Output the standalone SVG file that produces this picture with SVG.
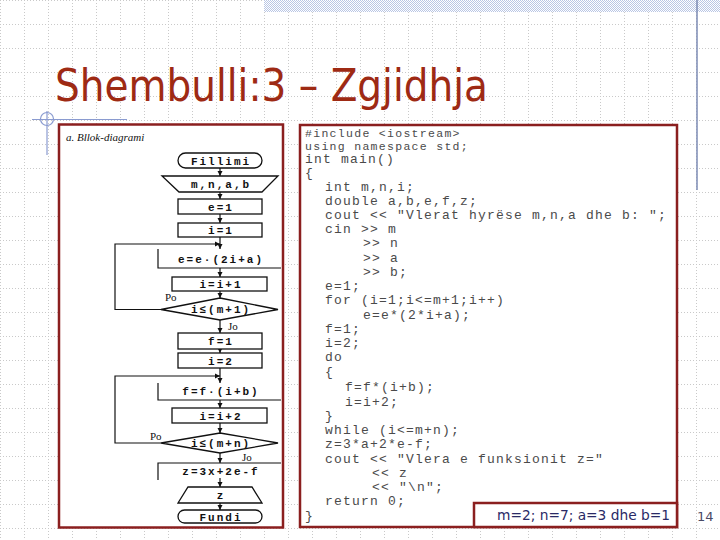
<svg xmlns="http://www.w3.org/2000/svg" width="720" height="540" viewBox="0 0 720 540">
<defs>
<pattern id="grid" width="24" height="24" patternUnits="userSpaceOnUse">
<path d="M0,0.5 H24 M0.5,0 V24" fill="none" stroke="#c9c9c9" stroke-width="1" stroke-dasharray="1,2"/>
</pattern>
<pattern id="check" width="2" height="2" patternUnits="userSpaceOnUse">
<rect width="2" height="2" fill="#ffffff"/>
<rect width="1" height="1" fill="#b9c6e4"/>
<rect x="1" y="1" width="1" height="1" fill="#b9c6e4"/>
</pattern>
<marker id="arr" markerWidth="6" markerHeight="6" refX="5" refY="3" orient="auto" markerUnits="userSpaceOnUse">
<path d="M0,0.5 L5,3 L0,5.5 Z" fill="#111"/>
</marker>
</defs>
<style>
.fl{fill:#fff;stroke:#111;stroke-width:1.3}
.ln{fill:none;stroke:#111;stroke-width:1.2}
.ft{font-family:"Liberation Mono",monospace;font-weight:bold;font-size:11px;letter-spacing:2px;fill:#111;text-anchor:middle}
.lb{font-family:"Liberation Serif",serif;font-size:11px;fill:#111}
.cd{font-family:"Liberation Mono",monospace;font-size:13px;letter-spacing:1.2px;fill:#4a4a4a}
.cs{font-family:"Liberation Mono",monospace;font-size:11.5px;letter-spacing:1.3px;fill:#4a4a4a}
.frame{fill:#fff;stroke:#8b1f1f;stroke-width:2.5}
</style>
<rect width="720" height="540" fill="#fff"/>
<rect width="720" height="540" fill="url(#grid)"/>
<rect x="264" y="0" width="456" height="12" fill="url(#check)"/>
<line x1="697" y1="0" x2="697" y2="190" stroke="#7d8bb5" stroke-width="1.5"/>
<g id="decor" stroke="#8a9bd0" stroke-width="1.2" fill="none">
<line x1="32" y1="119.5" x2="127" y2="119.5"/>
<line x1="47" y1="111" x2="47" y2="155"/>
<circle cx="47" cy="119" r="6.5"/>
</g>
<text id="title" x="55" y="101" font-family="Tahoma,'DejaVu Sans',sans-serif" font-size="44" fill="#9e2a14" textLength="433" lengthAdjust="spacingAndGlyphs">Shembulli:3 – Zgjidhja</text>

<g id="flow-frame"><rect class="frame" x="59" y="124.5" width="224" height="403"/></g>
<text class="lb" x="66" y="141" font-style="italic">a.  Bllok-diagrami</text>

<g id="connectors">
<line class="ln" x1="220" y1="168" x2="220" y2="176" marker-end="url(#arr)"/>
<line class="ln" x1="220" y1="192" x2="220" y2="199" marker-end="url(#arr)"/>
<line class="ln" x1="220" y1="214" x2="220" y2="223" marker-end="url(#arr)"/>
<line class="ln" x1="220" y1="237" x2="220" y2="249" marker-end="url(#arr)"/>
<path class="ln" d="M161,309.5 H115 V244 H220" marker-end="url(#arr)"/>
<line class="ln" x1="220" y1="268" x2="220" y2="277" marker-end="url(#arr)"/>
<line class="ln" x1="220" y1="291" x2="220" y2="298" marker-end="url(#arr)"/>
<line class="ln" x1="220" y1="320" x2="220" y2="333" marker-end="url(#arr)"/>
<line class="ln" x1="220" y1="349" x2="220" y2="353" marker-end="url(#arr)"/>
<line class="ln" x1="220" y1="368" x2="220" y2="383" marker-end="url(#arr)"/>
<path class="ln" d="M161,443 H115 V376 H220" marker-end="url(#arr)"/>
<line class="ln" x1="220" y1="400" x2="220" y2="408" marker-end="url(#arr)"/>
<line class="ln" x1="220" y1="423" x2="220" y2="433" marker-end="url(#arr)"/>
<line class="ln" x1="220" y1="453" x2="220" y2="463" marker-end="url(#arr)"/>
<line class="ln" x1="220" y1="478" x2="220" y2="487" marker-end="url(#arr)"/>
<line class="ln" x1="220" y1="503" x2="220" y2="510" marker-end="url(#arr)"/>
</g>

<g id="n-start"><rect class="fl" x="178" y="153" width="84" height="15" rx="7.5"/><text class="ft" x="221" y="164.5">Fillimi</text></g>
<g id="n-input"><polygon class="fl" points="162,176 278,176 262,192 179,192"/><text class="ft" x="221" y="188">m,n,a,b</text></g>
<g id="n-e1"><rect class="fl" x="178" y="199" width="84" height="15"/><text class="ft" x="221" y="210.5">e=1</text></g>
<g id="n-i1"><rect class="fl" x="178" y="223" width="84" height="14"/><text class="ft" x="221" y="234">i=1</text></g>
<g id="n-ee"><path class="ln" d="M158,249 V268 H281"/><text class="ft" x="221" y="263">e=e·(2i+a)</text></g>
<g id="n-ii1"><rect class="fl" x="172" y="277" width="95" height="14"/><text class="ft" x="221" y="288">i=i+1</text></g>
<g id="n-d1"><polygon class="fl" points="220,298 278,309.5 220,320 161,309.5"/><text class="ft" x="221" y="313">i≤(m+1)</text></g>
<text class="lb" x="165" y="301">Po</text>
<text class="lb" x="228" y="330">Jo</text>
<g id="n-f1"><rect class="fl" x="178" y="333" width="84" height="16"/><text class="ft" x="221" y="345">f=1</text></g>
<g id="n-i2"><rect class="fl" x="178" y="353" width="84" height="15"/><text class="ft" x="221" y="364.5">i=2</text></g>
<g id="n-ff"><path class="ln" d="M158,383 V400 H281"/><text class="ft" x="221" y="395">f=f·(i+b)</text></g>
<g id="n-ii2"><rect class="fl" x="172" y="408" width="95" height="15"/><text class="ft" x="221" y="419.5">i=i+2</text></g>
<g id="n-d2"><polygon class="fl" points="220,433 278,443 220,453 161,443"/><text class="ft" x="221" y="447">i≤(m+n)</text></g>
<text class="lb" x="150" y="440">Po</text>
<text class="lb" x="242" y="461">Jo</text>
<g id="n-z"><path class="ln" d="M158,480 V463 H281"/><text class="ft" x="221" y="475">z=3x+2e-f</text></g>
<g id="n-out"><polygon class="fl" points="188,487 252,487 262,503 178,503"/><text class="ft" x="221" y="499">z</text></g>
<g id="n-end"><rect class="fl" x="178" y="510" width="84" height="13" rx="6.5"/><text class="ft" x="221" y="520.5">Fundi</text></g>

<g id="code-frame"><rect class="frame" x="300" y="125" width="377" height="402"/></g>
<g id="code">
<text class="cs" x="305" y="136.5">#include &lt;iostream&gt;</text>
<text class="cs" x="305" y="149.5">using namespace std;</text>
<text class="cd" x="305" y="163" font-size="14" letter-spacing="0.3">int main()</text>
<text class="cd" x="305" y="177">{</text>
<text class="cd" x="325" y="191">int m,n,i;</text>
<text class="cd" x="325" y="205">double a,b,e,f,z;</text>
<text class="cd" x="325" y="219">cout &lt;&lt; "Vlerat hyrëse m,n,a dhe b: ";</text>
<text class="cd" x="325" y="233">cin &gt;&gt; m</text>
<text class="cd" x="363" y="247">&gt;&gt; n</text>
<text class="cd" x="363" y="262">&gt;&gt; a</text>
<text class="cd" x="363" y="276">&gt;&gt; b;</text>
<text class="cd" x="325" y="290">e=1;</text>
<text class="cd" x="325" y="304">for (i=1;i&lt;=m+1;i++)</text>
<text class="cd" x="363" y="319">e=e*(2*i+a);</text>
<text class="cd" x="325" y="333">f=1;</text>
<text class="cd" x="325" y="347">i=2;</text>
<text class="cd" x="325" y="361">do</text>
<text class="cd" x="325" y="376">{</text>
<text class="cd" x="345" y="391">f=f*(i+b);</text>
<text class="cd" x="345" y="406">i=i+2;</text>
<text class="cd" x="325" y="420">}</text>
<text class="cd" x="325" y="434">while (i&lt;=m+n);</text>
<text class="cd" x="325" y="448">z=3*a+2*e-f;</text>
<text class="cd" x="325" y="463">cout &lt;&lt; "Vlera e funksionit z="</text>
<text class="cd" x="372" y="477">&lt;&lt; z</text>
<text class="cd" x="372" y="491">&lt;&lt; "\n";</text>
<text class="cd" x="325" y="505">return 0;</text>
<text class="cd" x="305" y="520">}</text>
</g>
<g id="values">
<rect x="474" y="503" width="203" height="24" fill="#fff" stroke="#8b1f1f" stroke-width="2.5"/>
<text x="497" y="520" font-family="Tahoma,'DejaVu Sans',sans-serif" font-size="14" fill="#2a2a66" textLength="173" lengthAdjust="spacingAndGlyphs">m=2; n=7; a=3 dhe b=1</text>
</g>
<text id="pagenum" x="697" y="521" font-family="'DejaVu Sans',sans-serif" font-size="13" fill="#4a4a66">14</text>
</svg>
